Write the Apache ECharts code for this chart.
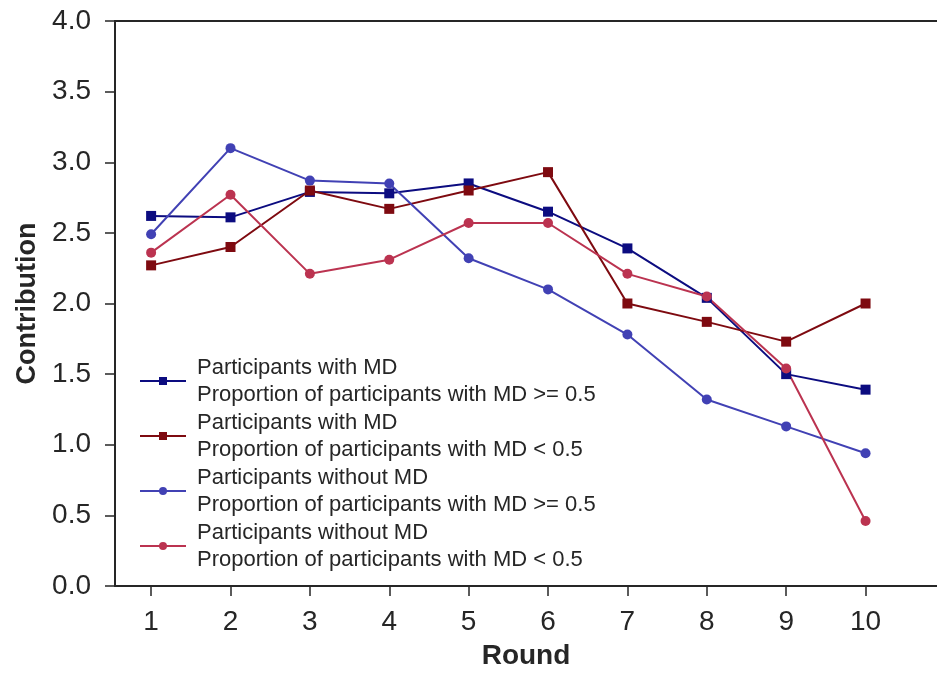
<!DOCTYPE html>
<html>
<head>
<meta charset="utf-8">
<script src="https://cdn.jsdelivr.net/npm/echarts@6/dist/echarts.min.js"></script>
<style>
  html, body { margin: 0; padding: 0; background: #fff; }
  #chart { width: 937px; height: 675px; }
</style>
</head>
<body>
<div id="chart"></div>
<script>
// Rounds of the public goods game
const rounds = [1, 2, 3, 4, 5, 6, 7, 8, 9, 10];

// Mean contribution per round, by participant type and group composition
const withMdHigh    = [2.62, 2.61, 2.79, 2.78, 2.85, 2.65, 2.39, 2.04, 1.50, 1.39];
const withMdLow     = [2.27, 2.40, 2.80, 2.67, 2.80, 2.93, 2.00, 1.87, 1.73, 2.00];
const withoutMdHigh = [2.49, 3.10, 2.87, 2.85, 2.32, 2.10, 1.78, 1.32, 1.13, 0.94];
const withoutMdLow  = [2.36, 2.77, 2.21, 2.31, 2.57, 2.57, 2.21, 2.05, 1.54, 0.46];

const seriesNames = [
  'Participants with MD\nProportion of participants with MD >= 0.5',
  'Participants with MD\nProportion of participants with MD < 0.5',
  'Participants without MD\nProportion of participants with MD >= 0.5',
  'Participants without MD\nProportion of participants with MD < 0.5'
];

const yTicks = [0, 0.5, 1, 1.5, 2, 2.5, 3, 3.5, 4];

const FONT = '"Liberation Sans", Arial, Helvetica, sans-serif';
const INK = '#262626';

function pairs(values) {
  return rounds.map((r, i) => [r, values[i]]);
}

function lineSeries(name, values, color, symbol, size) {
  return {
    name: name,
    type: 'line',
    data: pairs(values),
    symbol: symbol,
    symbolSize: size,
    lineStyle: { color: color, width: 2 },
    itemStyle: { color: color },
    emphasis: { disabled: true },
    z: 3
  };
}

const chart = echarts.init(document.getElementById('chart'), null, { renderer: 'canvas' });

chart.setOption({
  animation: false,
  backgroundColor: '#ffffff',
  grid: { left: 115, right: 0, top: 21, bottom: 87, containLabel: false },
  legend: {
    show: true,
    orient: 'vertical',
    left: 134,
    top: 349,
    itemWidth: 46,
    itemHeight: 10,
    itemGap: 1,
    selectedMode: false,
    textStyle: {
      fontFamily: FONT,
      fontSize: 22,
      color: INK,
      lineHeight: 27,
      padding: [0, 0, 0, 6]
    },
    data: seriesNames
  },
  xAxis: [
    {
      type: 'value',
      min: 0.545,
      max: 10.9,
      name: 'Round',
      nameLocation: 'middle',
      nameGap: 56,
      nameTextStyle: { fontFamily: FONT, fontSize: 28, fontWeight: 'bold', color: INK },
      axisLine: { show: true, onZero: false, lineStyle: { color: INK, width: 2 } },
      axisTick: { show: true, length: 10, lineStyle: { color: INK, width: 1.5 }, customValues: rounds },
      axisLabel: {
        show: true, margin: 22, fontFamily: FONT, fontSize: 28, color: INK,
        customValues: rounds
      },
      splitLine: { show: false }
    },
    {
      // top frame line
      type: 'value',
      position: 'top',
      min: 0.545,
      max: 10.9,
      axisLine: { show: true, onZero: false, lineStyle: { color: INK, width: 2 } },
      axisTick: { show: false },
      axisLabel: { show: false },
      splitLine: { show: false }
    }
  ],
  yAxis: {
    type: 'value',
    min: 0,
    max: 4,
    interval: 0.5,
    name: 'Contribution',
    nameLocation: 'middle',
    nameGap: 73,
    nameTextStyle: { fontFamily: FONT, fontSize: 27, fontWeight: 'bold', color: INK },
    axisLine: { show: true, onZero: false, lineStyle: { color: INK, width: 2 } },
    axisTick: { show: true, length: 10, lineStyle: { color: INK, width: 1.5 } },
    axisLabel: {
      margin: 24, fontFamily: FONT, fontSize: 28, color: INK,
      formatter: v => yTicks.includes(v) ? v.toFixed(1) : ''
    },
    splitLine: { show: false }
  },
  series: [
    lineSeries(seriesNames[0], withMdHigh, '#0c0c80', 'rect', 10),
    lineSeries(seriesNames[1], withMdLow, '#7e0a10', 'rect', 10),
    lineSeries(seriesNames[2], withoutMdHigh, '#4141b4', 'circle', 10),
    lineSeries(seriesNames[3], withoutMdLow, '#bb3350', 'circle', 10)
  ]
});
</script>
</body>
</html>
